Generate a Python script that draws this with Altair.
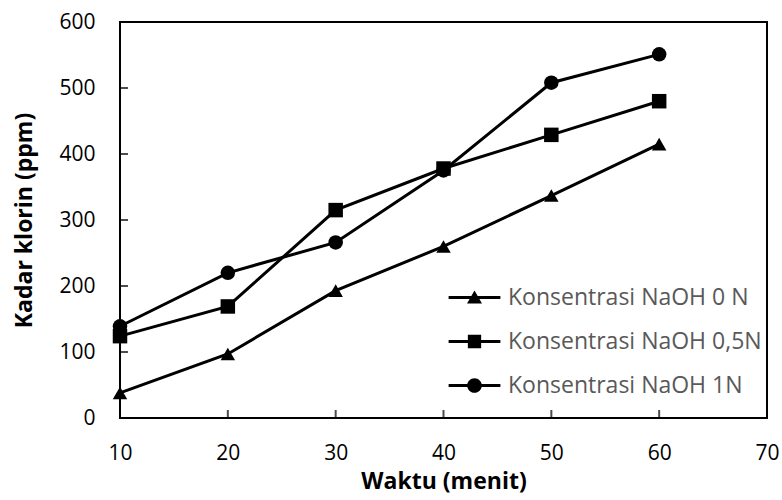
import altair as alt
import pandas as pd

# ---- data ----
waktu = [10, 20, 30, 40, 50, 60]
naoh_0 = [38, 97, 193, 260, 337, 415]
naoh_05 = [124, 169, 315, 378, 429, 480]
naoh_1 = [139, 220, 266, 375, 508, 551]
series = ["Konsentrasi NaOH 0 N", "Konsentrasi NaOH 0,5N", "Konsentrasi NaOH 1N"]
x_ticks = [10, 20, 30, 40, 50, 60, 70]
y_ticks = [0, 100, 200, 300, 400, 500, 600]

rows = []
for name, vals in zip(series, [naoh_0, naoh_05, naoh_1]):
    for w, v in zip(waktu, vals):
        rows.append({"waktu": w, "kadar": v, "series": name})
df = pd.DataFrame(rows)
xt = pd.DataFrame({"waktu": x_ticks[1:-1]})
yt = pd.DataFrame({"kadar": y_ticks[1:-1]})

FONT = "Open Sans"
W, H = 647, 396

xscale = alt.Scale(domain=[10, 70], nice=False, zero=False)
yscale = alt.Scale(domain=[0, 600], nice=False)

x_axis = alt.Axis(values=x_ticks, tickSize=0, domain=False, grid=False,
                  labelFlush=False, labelOverlap=False,
                  labelFont=FONT, labelFontSize=21, labelColor="black",
                  labelPadding=24, title="Waktu (menit)", titleFont=FONT,
                  titleFontSize=23, titleFontWeight="bold", titleColor="black",
                  titlePadding=7)
y_axis = alt.Axis(values=y_ticks, tickSize=0, domain=False, grid=False,
                  labelFlush=False, labelOverlap=False,
                  labelFont=FONT, labelFontSize=21, labelColor="black",
                  labelPadding=25, title="Kadar klorin (ppm)", titleFont=FONT,
                  titleFontSize=23, titleFontWeight="bold", titleColor="black",
                  titlePadding=22)

base = alt.Chart(df)

lines = base.mark_line(color="black", strokeWidth=3).encode(
    x=alt.X("waktu:Q", scale=xscale, axis=x_axis),
    y=alt.Y("kadar:Q", scale=yscale, axis=y_axis),
    detail="series:N",
)

points = base.mark_point(filled=True, color="black", opacity=1, size=210).encode(
    x=alt.X("waktu:Q"),
    y=alt.Y("kadar:Q"),
    shape=alt.Shape("series:N",
                    scale=alt.Scale(domain=series, range=["triangle-up", "square", "circle"]),
                    legend=None),
)

# legend symbols: a short line plus the marker, all filled (unit = 7 px)
legend_paths = [
    "M-3.7,-0.21H3.7V0.21H-3.7Z M0,-1L1.07,0.85L-1.07,0.85Z",
    "M-3.7,-0.21H3.7V0.21H-3.7Z M-0.95,-0.95H0.95V0.95H-0.95Z",
    "M-3.7,-0.21H3.7V0.21H-3.7Z M1.05,0A1.05,1.05,0,1,1,-1.05,0A1.05,1.05,0,1,1,1.05,0Z",
]

legend_layer = base.mark_point(fill="black", stroke="black", strokeWidth=0, opacity=0).encode(
    x=alt.X("waktu:Q"),
    y=alt.Y("kadar:Q"),
    shape=alt.Shape("series:N",
                    scale=alt.Scale(domain=series, range=legend_paths),
                    legend=alt.Legend(orient="none", legendX=343, legendY=264,
                                      title=None, symbolSize=196,
                                      symbolStrokeWidth=0,
                                      symbolFillColor="black", symbolOpacity=1,
                                      labelFont=FONT, labelFontSize=23,
                                      labelColor="#595959", labelOffset=22,
                                      labelLimit=400, rowPadding=20, padding=0)),
)

xticks_layer = alt.Chart(xt).mark_tick(color="black", thickness=2, size=8).encode(
    x=alt.X("waktu:Q"),
    y=alt.value(H - 4),
)
yticks_layer = alt.Chart(yt).mark_tick(color="black", thickness=2, size=8).encode(
    y=alt.Y("kadar:Q"),
    x=alt.value(4),
)

chart = alt.layer(lines, points, legend_layer, xticks_layer, yticks_layer).resolve_scale(
    shape="independent"
).properties(
    width=W, height=H,
    background="white",
    autosize=alt.AutoSizeParams(type="none"),
    padding={"left": 120, "top": 22, "right": 15, "bottom": 82},
).configure_view(stroke="black", strokeWidth=2)

chart.save("out.html", embed_options={"renderer": "svg", "actions": False})
